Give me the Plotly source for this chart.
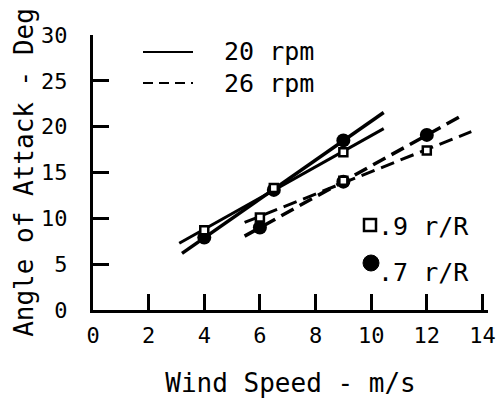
import numpy as np
import plotly.graph_objects as go

# ---- data ----
wind_20 = [4, 6.5, 9]
aoa_20_r09 = [8.7, 13.3, 17.2]
aoa_20_r07 = [7.9, 13.1, 18.5]

wind_26 = [6, 9, 12]
aoa_26_r09 = [10.1, 14.1, 17.4]
aoa_26_r07 = [9.0, 14.0, 19.1]

# extent of the straight fitted lines (wind speed, m/s)
span_20_r09 = [3.1, 10.45]
span_20_r07 = [3.2, 10.45]
span_26_r09 = [5.45, 13.6]
span_26_r07 = [5.45, 13.2]

x_ticks = [0, 2, 4, 6, 8, 10, 12, 14]
y_ticks = [0, 5, 10, 15, 20, 25, 30]

FONT = "DejaVu Sans Mono"
INK = "black"
WEIGHT = "normal"


def fit_line(xs, ys, span):
    k, b = np.polyfit(xs, ys, 1)
    sx = np.array(span, dtype=float)
    return sx, k * sx + b


fig = go.Figure()

# fitted lines
for xs, ys, span, dash, w in [
    (wind_20, aoa_20_r09, span_20_r09, "solid", 3),
    (wind_20, aoa_20_r07, span_20_r07, "solid", 3.5),
    (wind_26, aoa_26_r09, span_26_r09, "14px,7px", 3),
    (wind_26, aoa_26_r07, span_26_r07, "14px,7px", 3.5),
]:
    lx, ly = fit_line(xs, ys, span)
    fig.add_trace(go.Scatter(x=lx, y=ly, mode="lines",
                             line=dict(color=INK, width=w, dash=dash),
                             showlegend=False, hoverinfo="skip"))

# markers
for xs, ys in [(wind_20, aoa_20_r07), (wind_26, aoa_26_r07)]:
    fig.add_trace(go.Scatter(x=xs, y=ys, mode="markers",
                             marker=dict(symbol="circle", size=14, color=INK),
                             showlegend=False))
for xs, ys in [(wind_20, aoa_20_r09), (wind_26, aoa_26_r09)]:
    fig.add_trace(go.Scatter(x=xs, y=ys, mode="markers",
                             marker=dict(symbol="square", size=8, color="white",
                                         line=dict(color=INK, width=2.5)),
                             showlegend=False))

# ---- legend drawn as shapes + text ----
PL, PW, PB, PH = 93, 395, 310, 275


def px(xp):
    return (xp - PL) / PW


def py(yp):
    return (PB - yp) / PH


fig.add_shape(type="line", xref="paper", yref="paper",
              x0=px(143), x1=px(193), y0=py(52), y1=py(52),
              line=dict(color=INK, width=2))
fig.add_shape(type="line", xref="paper", yref="paper",
              x0=px(143), x1=px(193), y0=py(83), y1=py(83),
              line=dict(color=INK, width=2, dash="10px,6px"))
for txt, yy in [("20 rpm", 52), ("26 rpm", 83)]:
    fig.add_annotation(text=txt, xref="paper", yref="paper",
                       x=px(222), y=py(yy), xanchor="left", yanchor="middle",
                       showarrow=False,
                       font=dict(family=FONT, size=25, color=INK, weight=WEIGHT))

fig.add_shape(type="rect", xref="paper", yref="paper",
              x0=px(364), x1=px(376), y0=py(231), y1=py(219),
              line=dict(color=INK, width=2.5), fillcolor="white")
fig.add_shape(type="circle", xref="paper", yref="paper",
              x0=px(363), x1=px(379), y0=py(271), y1=py(255),
              line=dict(color=INK, width=1), fillcolor=INK)
for txt, yy in [(".9 r/R", 226), (".7 r/R", 272)]:
    fig.add_annotation(text=txt, xref="paper", yref="paper",
                       x=px(376), y=py(yy), xanchor="left", yanchor="middle",
                       showarrow=False,
                       font=dict(family=FONT, size=25, color=INK, weight=WEIGHT))

fig.update_layout(
    width=498, height=414,
    margin=dict(l=PL, r=498 - PL - PW, t=PB - PH, b=414 - PB, autoexpand=False),
    paper_bgcolor="white", plot_bgcolor="white",
    font=dict(family=FONT, color=INK),
    showlegend=False,
)
fig.update_xaxes(
    range=[0, 14.2], tickvals=x_ticks, ticktext=[str(v) for v in x_ticks],
    showgrid=False, zeroline=False, showline=True, linecolor=INK, linewidth=3,
    ticks="inside", ticklen=16, tickwidth=2.5, tickcolor=INK,
    tickfont=dict(family=FONT, size=22, color=INK, weight=WEIGHT),
    ticklabeloverflow="allow", automargin=False, ticklabelstandoff=4,
    title=dict(text="Wind Speed - m/s", standoff=27,
               font=dict(family=FONT, size=26, color=INK, weight=WEIGHT)),
)
fig.update_yaxes(
    range=[0, 30], tickvals=y_ticks, ticktext=[str(v) for v in y_ticks],
    showgrid=False, zeroline=False, showline=True, linecolor=INK, linewidth=3,
    ticks="inside", ticklen=16, tickwidth=2.5, tickcolor=INK,
    tickfont=dict(family=FONT, size=22, color=INK, weight=WEIGHT),
    ticklabeloverflow="allow", automargin=False, ticklabelstandoff=18,
    title=dict(text="Angle of Attack - Deg", standoff=0,
               font=dict(family=FONT, size=26, color=INK, weight=WEIGHT)),
)

fig.write_html(
    "out.html",
    config={"displayModeBar": False},
    post_script="document.body.style.margin='0';document.body.style.overflow='hidden';",
)
